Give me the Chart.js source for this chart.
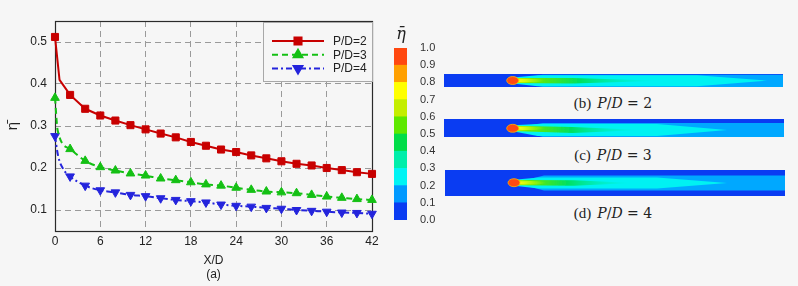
<!DOCTYPE html>
<html>
<head>
<meta charset="utf-8">
<script src="https://cdn.jsdelivr.net/npm/chart.js@4.4.1/dist/chart.umd.min.js"></script>
<style>
  html, body { margin: 0; padding: 0; background: #f6f6f6; }
  body { width: 798px; height: 286px; position: relative; overflow: hidden; font-family: "Liberation Sans", Arial, sans-serif; }
  #mainWrap { position: absolute; left: 0; top: 0; width: 390px; height: 286px; }
  #barWrap { position: absolute; left: 390px; top: 0; width: 50px; height: 286px; }
  #cbTitle { position: absolute; left: 393px; top: 24px; width: 16px; text-align: center; font: italic 16px "DejaVu Serif", serif; color: #222; }
  .strip { position: absolute; line-height: 0; }
  .cap { position: absolute; transform: translate(-50%, -50%); white-space: nowrap; color: #222; font: 15px "Liberation Serif", serif; }
  .cap .m { font: 14px "DejaVu Serif", serif; margin-left: 6px; }
</style>
</head>
<body>
<div id="mainWrap"><canvas id="mainChart"></canvas></div>
<div id="barWrap"><canvas id="barChart"></canvas></div>
<div id="cbTitle">η̄</div>

<div class="strip" id="stripB" style="left:444px; top:74px;"></div>
<div class="cap" style="left:613px; top:103px;">(b)<span class="m"><i>P</i>/<i>D</i> = 2</span></div>
<div class="strip" id="stripC" style="left:444px; top:119px;"></div>
<div class="cap" style="left:613px; top:155px;">(c)<span class="m"><i>P</i>/<i>D</i> = 3</span></div>
<div class="strip" id="stripD" style="left:445px; top:170px;"></div>
<div class="cap" style="left:613px; top:213px;">(d)<span class="m"><i>P</i>/<i>D</i> = 4</span></div>

<script>
// laterally averaged effectiveness vs X/D
const seriesNames = ['P/D=2', 'P/D=3', 'P/D=4'];

const xRed = [0, 0.6, 2, 4, 6, 8, 10, 12, 14, 16, 18, 20, 22, 24, 26, 28, 30, 32, 34, 36, 38, 40, 42];
const yRed = [0.512, 0.41, 0.374, 0.341, 0.325, 0.313, 0.302, 0.292, 0.282, 0.273, 0.262, 0.253,
              0.244, 0.238, 0.230, 0.223, 0.216, 0.210, 0.206, 0.200, 0.195, 0.190, 0.186];

const xGreen = [0, 0.35, 2, 4, 6, 8, 10, 12, 14, 16, 18, 20, 22, 24, 26, 28, 30, 32, 34, 36, 38, 40, 42];
const yGreen = [0.367, 0.29, 0.245, 0.217, 0.202, 0.194, 0.187, 0.182, 0.175, 0.171, 0.166, 0.161,
                0.158, 0.153, 0.148, 0.144, 0.142, 0.140, 0.136, 0.132, 0.129, 0.126, 0.124];

const xBlue = [0, 0.4, 1.1, 2, 4, 6, 8, 10, 12, 14, 16, 18, 20, 22, 24, 26, 28, 30, 32, 34, 36, 38, 40, 42];
const yBlue = [0.276, 0.23, 0.197, 0.180, 0.158, 0.147, 0.142, 0.136, 0.133, 0.128, 0.124, 0.121,
               0.118, 0.113, 0.110, 0.108, 0.105, 0.103, 0.100, 0.098, 0.096, 0.094, 0.093, 0.091];

const yTicks = [0.1, 0.2, 0.3, 0.4, 0.5];

// colour bar levels and band colours (bottom to top)
const cbLevels = [0, 0.1, 0.2, 0.3, 0.4, 0.5, 0.6, 0.7, 0.8, 0.9, 1.0];
const cbColors = ['#0a3cf2', '#0099ff', '#00f4f4', '#00eeaa', '#00dd48',
                  '#5ee800', '#c4ee00', '#ffff00', '#ffa000', '#ff4810'];

Chart.defaults.font.family = '"Liberation Sans", Arial, sans-serif';
Chart.defaults.font.size = 12;
Chart.defaults.color = '#222';
Chart.defaults.animation = false;

function toPoints(xs, ys) {
    return xs.map((x, i) => ({ x: x, y: ys[i] }));
}

// markers only on the even X/D stations
function markerRadius(ctx) {
    return ctx.raw && ctx.raw.x % 2 === 0 ? 5 : 0;
}

const frame = {
    id: 'frame',
    beforeDatasetsDraw(chart) {
        const a = chart.chartArea;
        const ctx = chart.ctx;
        ctx.save();
        ctx.strokeStyle = '#2a2a2a';
        ctx.lineWidth = 1.2;
        ctx.strokeRect(Math.round(a.left) + 0.5, Math.round(a.top) + 0.5,
                       Math.round(a.right - a.left), Math.round(a.bottom - a.top));
        ctx.restore();
    }
};

const boxLegend = {
    id: 'boxLegend',
    afterDraw(chart) {
        const a = chart.chartArea;
        const ctx = chart.ctx;
        const left = a.right - 109, top = a.top + 1;
        ctx.save();
        ctx.fillStyle = '#f6f6f6';
        ctx.strokeStyle = '#a8a8a8';
        ctx.lineWidth = 1;
        ctx.fillRect(left + 0.5, top + 0.5, 109, 59);
        ctx.strokeRect(left + 0.5, top + 0.5, 109, 59);
        chart.data.datasets.forEach((ds, i) => {
            const y = top + 19 + i * 13.7;
            ctx.setLineDash(ds.borderDash || []);
            ctx.strokeStyle = ds.borderColor;
            ctx.lineWidth = ds.borderWidth;
            ctx.beginPath();
            ctx.moveTo(left + 9, y);
            ctx.lineTo(left + 61, y);
            ctx.stroke();
            ctx.setLineDash([]);
            ctx.fillStyle = ds.backgroundColor;
            ctx.strokeStyle = ds.borderColor;
            Chart.helpers.drawPoint(ctx, { pointStyle: ds.pointStyle, rotation: ds.rotation || 0, radius: 5, borderWidth: 1 }, left + 35, y);
            ctx.fillStyle = '#222';
            ctx.font = '12px "Liberation Sans", Arial, sans-serif';
            ctx.textBaseline = 'middle';
            ctx.fillText(ds.label, left + 70, y + 0.5);
        });
        ctx.restore();
    }
};

new Chart(document.getElementById('mainChart'), {
    type: 'line',
    data: {
        datasets: [
            {
                label: seriesNames[0], data: toPoints(xRed, yRed),
                borderColor: '#c80000', backgroundColor: '#c80000', borderWidth: 2,
                pointStyle: 'rect', pointRadius: markerRadius, pointBorderWidth: 1,
                tension: 0, clip: false
            },
            {
                label: seriesNames[1], data: toPoints(xGreen, yGreen),
                borderColor: '#14c014', backgroundColor: '#14c014', borderWidth: 2, borderDash: [6, 4],
                pointStyle: 'triangle', pointRadius: markerRadius, pointBorderWidth: 1,
                cubicInterpolationMode: 'monotone', clip: false
            },
            {
                label: seriesNames[2], data: toPoints(xBlue, yBlue),
                borderColor: '#2424dc', backgroundColor: '#2424dc', borderWidth: 2, borderDash: [6, 3, 2, 3],
                pointStyle: 'triangle', rotation: 180, pointRadius: markerRadius, pointBorderWidth: 1,
                cubicInterpolationMode: 'monotone', clip: false
            }
        ]
    },
    options: {
        responsive: true,
        maintainAspectRatio: false,
        layout: { padding: { top: 21, right: 18, left: 0, bottom: 0 } },
        plugins: { legend: { display: false }, tooltip: { enabled: false } },
        scales: {
            x: {
                type: 'linear', min: 0, max: 42,
                ticks: { stepSize: 6, padding: 3, color: '#222' },
                grid: { color: '#9a9a9a', lineWidth: 1, drawTicks: false },
                border: { display: false, dash: [6, 4] },
                title: { display: true, text: ['X/D', '(a)'], color: '#222', font: { size: 12 }, padding: { top: 6, bottom: 4 } },
                afterFit(scale) { scale.height = 55; }
            },
            y: {
                type: 'linear', min: 0.05, max: 0.55,
                afterBuildTicks(scale) { scale.ticks = yTicks.map(v => ({ value: v })); },
                ticks: { padding: 8, color: '#222', callback: v => v.toFixed(1) },
                grid: { color: '#9a9a9a', lineWidth: 1, drawTicks: false },
                border: { display: false, dash: [6, 4] },
                title: { display: true, text: 'η̄', color: '#222', font: { size: 15 }, padding: { top: 4, bottom: 0 } },
                afterFit(scale) { scale.width = 55; }
            }
        }
    },
    plugins: [frame, boxLegend]
});

// colour bar as floating bars
new Chart(document.getElementById('barChart'), {
    type: 'bar',
    data: {
        labels: [''],
        datasets: cbColors.map((c, i) => ({
            data: [[cbLevels[i], cbLevels[i + 1]]],
            backgroundColor: c, borderWidth: 0,
            barPercentage: 1, categoryPercentage: 1, grouped: false
        }))
    },
    options: {
        responsive: true,
        maintainAspectRatio: false,
        layout: { padding: { top: 48, left: 4, right: 0, bottom: 66 } },
        plugins: { legend: { display: false }, tooltip: { enabled: false } },
        scales: {
            x: { display: false },
            y: {
                position: 'right', min: 0, max: 1,
                ticks: { stepSize: 0.1, padding: 5, color: '#333', font: { size: 11 }, callback: v => v.toFixed(1) },
                grid: { display: false },
                border: { display: false },
                afterFit(scale) { scale.width = 33; }
            }
        }
    }
});

// contour snapshots of the film jet (drawn as plain svg)
function stripSvg(s) {
    const cy = (s.top + s.bot) / 2;
    const ts = s.tip - 70;
    return `<svg width="${s.w}" height="${s.h}" xmlns="http://www.w3.org/2000/svg">
      <defs>
        <linearGradient id="g${s.id}" x1="0" x2="1">
          <stop offset="0" stop-color="#d8f400"/>
          <stop offset="0.12" stop-color="#70ea00"/>
          <stop offset="0.45" stop-color="#00e060"/>
          <stop offset="1" stop-color="#00f0d0" stop-opacity="0"/>
        </linearGradient>
        <linearGradient id="y${s.id}" x1="0" x2="1">
          <stop offset="0" stop-color="#ffff10"/>
          <stop offset="1" stop-color="#ffff10" stop-opacity="0"/>
        </linearGradient>
        <filter id="f${s.id}" x="-5%" y="-50%" width="110%" height="200%"><feGaussianBlur stdDeviation="0.6"/></filter>
      </defs>
      <rect width="${s.w}" height="${s.h}" fill="#0a3cf2"/>
      <g filter="url(#f${s.id})">
        <polygon points="${s.hx},${s.hy} ${s.hx + 30},${s.lt} ${s.w},${s.lt} ${s.w},${s.lb} ${s.hx + 30},${s.lb}" fill="#00a8ff"/>
        <polygon points="${s.hx},${s.hy - 3} ${s.hx + 25},${s.top} ${ts},${s.top} ${s.tip},${cy} ${ts},${s.bot} ${s.hx + 25},${s.bot} ${s.hx},${s.hy + 3}" fill="#00f2f2"/>
        <polygon points="${s.hx},${s.hy - 2.6} ${s.hx + 60},${cy - (s.bot - s.top) * 0.25} ${s.hx + s.core},${cy} ${s.hx + 60},${cy + (s.bot - s.top) * 0.25} ${s.hx},${s.hy + 2.6}" fill="url(#g${s.id})"/>
        <ellipse cx="${s.hx + 16}" cy="${s.hy}" rx="16" ry="1.8" fill="url(#y${s.id})"/>
      </g>
      <ellipse cx="${s.hx}" cy="${s.hy}" rx="6" ry="4" fill="#ff4a12" stroke="#ffb400" stroke-width="0.8"/>
    </svg>`;
}

document.getElementById('stripB').innerHTML = stripSvg({ id: 'b', w: 339, h: 13, hx: 68.7, hy: 6.5, top: 1.2, bot: 12.2, tip: 323, lt: 0.8, lb: 13, core: 150 });
document.getElementById('stripC').innerHTML = stripSvg({ id: 'c', w: 340, h: 18, hx: 68.7, hy: 9.3, top: 5, bot: 17, tip: 283, lt: 4, lb: 18, core: 130 });
document.getElementById('stripD').innerHTML = stripSvg({ id: 'd', w: 340, h: 26, hx: 69, hy: 12.7, top: 7.5, bot: 18.5, tip: 282, lt: 5.5, lb: 20.5, core: 120 });
</script>
</body>
</html>
